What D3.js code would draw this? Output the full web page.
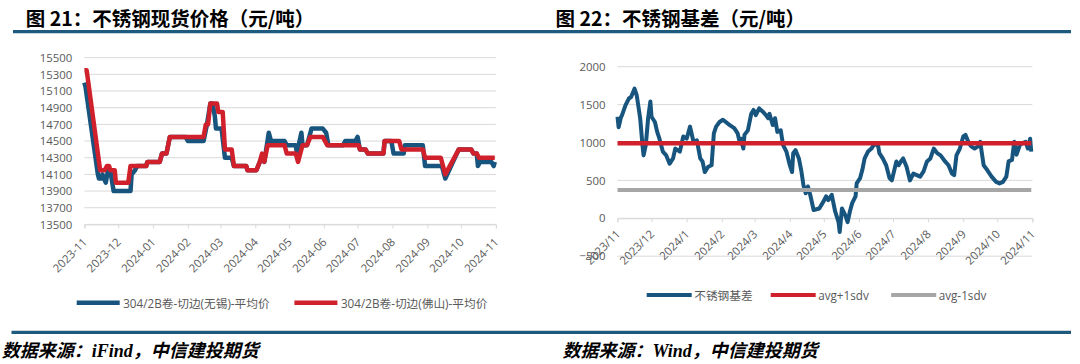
<!DOCTYPE html>
<html>
<head>
<meta charset="utf-8">
<style>
    body { margin: 0; background: #fff; }
    svg { display: block; font-family: "Open Sans", "Noto Sans CJK SC", sans-serif; }
    .title { font-family: "Noto Sans CJK SC", sans-serif; font-weight: 700; font-size: 19.5px; fill: #000; }
    .source { font-family: "Liberation Serif", "Noto Sans CJK SC", serif; font-weight: 700; font-style: italic; font-size: 18px; fill: #000; }
    .tick text { fill: #595959; font-size: 11.4px; font-family: "Open Sans", sans-serif; }
    .legend text { fill: #595959; font-size: 11.7px; }
</style>
</head>
<body>
<svg width="1080" height="364"></svg>

<script src="https://d3js.org/d3.v7.min.js"></script>
<script>
//------------------------ DATA ------------------------//
let monthTicks = ["2023-11-01","2023-12-01","2024-01-01","2024-02-01","2024-03-01","2024-04-01",
                  "2024-05-01","2024-06-01","2024-07-01","2024-08-01","2024-09-01","2024-10-01","2024-11-01"]
let leftTickLabels = ["2023-11","2023-12","2024-01","2024-02","2024-03","2024-04",
                      "2024-05","2024-06","2024-07","2024-08","2024-09","2024-10","2024-11"]
let rightTickLabels = ["2023/11","2023/12","2024/1","2024/2","2024/3","2024/4",
                       "2024/5","2024/6","2024/7","2024/8","2024/9","2024/10","2024/11"]
let leftYTicks = [13500, 13700, 13900, 14100, 14300, 14500, 14700, 14900, 15100, 15300, 15500]
let rightYTicks = [-500, 0, 500, 1000, 1500, 2000]

// 304/2B卷-切边(无锡)-平均价
let wuxiDates = [
    "2023-11-01","2023-11-02","2023-11-13","2023-11-14","2023-11-16","2023-11-17","2023-11-20","2023-11-22","2023-11-24","2023-11-27",
    "2023-12-12","2023-12-13","2023-12-16","2023-12-18","2023-12-26","2023-12-27",
    "2024-01-07","2024-01-09","2024-01-13","2024-01-16","2024-01-30",
    "2024-02-01","2024-02-15","2024-02-18","2024-02-21","2024-02-23","2024-02-25","2024-02-26",
    "2024-03-02","2024-03-05","2024-03-11","2024-03-13","2024-03-24","2024-03-25",
    "2024-04-02","2024-04-05","2024-04-07","2024-04-09","2024-04-13","2024-04-15","2024-04-27","2024-04-29",
    "2024-05-07","2024-05-08","2024-05-12","2024-05-13","2024-05-17","2024-05-21","2024-05-31",
    "2024-06-03","2024-06-05","2024-06-18","2024-06-20","2024-06-29",
    "2024-07-01","2024-07-03","2024-07-08","2024-07-10","2024-07-24","2024-07-25","2024-07-31",
    "2024-08-02","2024-08-11","2024-08-12","2024-08-28","2024-08-30",
    "2024-09-14","2024-09-17","2024-09-29",
    "2024-10-10","2024-10-12","2024-10-15","2024-10-16","2024-10-18","2024-10-28","2024-10-30","2024-10-31"]
let wuxiPrice = [
    15200,15150,14100,14050,14050,14100,14000,14150,14150,13900,
    13900,14100,14150,14200,14200,14250,
    14250,14350,14350,14550,14550,
    14500,14500,14700,14950,14950,14800,14650,
    14650,14300,14300,14200,14200,14150,
    14150,14250,14300,14250,14600,14500,14500,14450,
    14450,14350,14600,14450,14450,14650,14650,
    14600,14450,14450,14500,14500,
    14550,14400,14400,14350,14350,14500,14500,
    14350,14350,14450,14450,14200,
    14200,14050,14400,
    14400,14350,14350,14200,14250,14250,14200,14250]

// 304/2B卷-切边(佛山)-平均价
let foshanDates = [
    "2023-11-01","2023-11-03","2023-11-04","2023-11-15","2023-11-19","2023-11-21","2023-11-23","2023-11-24","2023-11-28","2023-11-29",
    "2023-12-10","2023-12-12","2023-12-26","2023-12-27",
    "2024-01-07","2024-01-09","2024-01-13","2024-01-16",
    "2024-02-15","2024-02-17","2024-02-19","2024-02-21","2024-02-27","2024-02-28",
    "2024-03-03","2024-03-05","2024-03-11","2024-03-13","2024-03-24","2024-03-25",
    "2024-04-02","2024-04-05","2024-04-07","2024-04-09","2024-04-12","2024-04-27","2024-04-29",
    "2024-05-07","2024-05-09","2024-05-13","2024-05-17","2024-05-20","2024-05-31",
    "2024-06-04",
    "2024-07-02","2024-07-03","2024-07-08","2024-07-10","2024-07-24","2024-07-25",
    "2024-08-07","2024-08-09","2024-08-28","2024-08-30",
    "2024-09-13","2024-09-17","2024-09-29",
    "2024-10-10","2024-10-12","2024-10-15","2024-10-17","2024-10-31"]
let foshanPrice = [
    15350,15350,15250,14150,14150,14200,14200,14150,14150,14000,
    14000,14200,14200,14250,
    14250,14350,14350,14550,
    14550,14700,14700,14950,14950,14850,
    14850,14400,14400,14200,14200,14150,
    14150,14250,14350,14250,14450,14450,14350,
    14350,14250,14450,14450,14550,14550,
    14450,
    14450,14400,14400,14350,14350,14500,
    14500,14400,14400,14300,
    14300,14100,14400,
    14400,14350,14350,14300,14300]

// 不锈钢基差
let basisDates = [
    "2023-11-01","2023-11-02","2023-11-04","2023-11-05","2023-11-08","2023-11-11","2023-11-13","2023-11-16","2023-11-18","2023-11-21","2023-11-23","2023-11-24","2023-11-26","2023-11-28","2023-11-30",
    "2023-12-01","2023-12-04","2023-12-06","2023-12-08","2023-12-11","2023-12-14","2023-12-17","2023-12-20","2023-12-22","2023-12-26","2023-12-29",
    "2024-01-01","2024-01-04","2024-01-07","2024-01-10","2024-01-13","2024-01-15","2024-01-17","2024-01-20","2024-01-23","2024-01-25","2024-01-27","2024-01-30",
    "2024-02-02","2024-02-08","2024-02-12","2024-02-15","2024-02-17","2024-02-18","2024-02-20","2024-02-21","2024-02-24","2024-02-27","2024-02-29",
    "2024-03-02","2024-03-05","2024-03-08","2024-03-11","2024-03-13","2024-03-14","2024-03-17","2024-03-19","2024-03-21","2024-03-24","2024-03-26","2024-03-29",
    "2024-04-01","2024-04-03","2024-04-04","2024-04-06","2024-04-09","2024-04-11","2024-04-13","2024-04-15","2024-04-17","2024-04-19","2024-04-22","2024-04-27",
    "2024-05-01","2024-05-03","2024-05-05","2024-05-08","2024-05-11","2024-05-14","2024-05-15","2024-05-17","2024-05-20","2024-05-22","2024-05-24","2024-05-26","2024-05-29","2024-05-30",
    "2024-06-02","2024-06-04","2024-06-06","2024-06-09","2024-06-12","2024-06-15","2024-06-18","2024-06-19","2024-06-22","2024-06-25","2024-06-28","2024-06-30",
    "2024-07-04","2024-07-06","2024-07-08","2024-07-10","2024-07-13","2024-07-16","2024-07-19","2024-07-22","2024-07-25","2024-07-28","2024-07-31",
    "2024-08-03","2024-08-06","2024-08-09","2024-08-12","2024-08-16","2024-08-19","2024-08-22","2024-08-24","2024-08-26","2024-08-29",
    "2024-09-01","2024-09-03","2024-09-06","2024-09-08","2024-09-11","2024-09-14","2024-09-16","2024-09-17","2024-09-19","2024-09-22","2024-09-26","2024-09-30",
    "2024-10-03","2024-10-06","2024-10-09","2024-10-11","2024-10-14","2024-10-16","2024-10-18","2024-10-21","2024-10-23","2024-10-26","2024-10-28","2024-10-30","2024-10-31"]
let basisValues = [
    1340,1200,1330,1360,1490,1580,1600,1710,1620,1320,970,830,970,1320,1540,
    1340,1270,1140,1050,880,830,720,790,920,880,1080,
    1050,1210,1010,1030,790,750,610,680,700,1120,1210,1270,
    1300,1230,1190,1120,990,1050,920,1100,1160,1380,1430,
    1360,1450,1410,1360,1320,1380,1230,1320,1140,1160,970,880,
    700,610,860,900,790,640,440,330,420,310,110,130,
    230,290,240,310,90,-50,-180,130,40,-50,90,200,290,460,
    530,640,790,880,920,990,950,860,790,700,530,500,
    750,700,750,790,680,500,590,570,550,620,750,
    790,920,860,830,750,700,590,570,830,920,
    1080,1100,990,950,920,950,1010,900,700,640,550,480,
    460,480,550,750,770,1010,840,970,990,1010,920,1050,880]

let avgPlus1sdv = 990
let avgMinus1sdv = 373

//------------------------ SETUP ------------------------//
let svg = d3.select("svg")
let parse = d3.timeParse("%Y-%m-%d")
let blue = "#17557f"
let red = "#d0202c"
let grey = "#a6a6a6"
let ruleColor = "#1d5a7e"
let gridColor = "#d9d9d9"

let zip = (dates, values) => dates.map((d, i) => ({date: parse(d), value: values[i]}))
let wuxi = zip(wuxiDates, wuxiPrice)
let foshan = zip(foshanDates, foshanPrice)
let basis = zip(basisDates, basisValues)
let months = monthTicks.map(parse)

//------------------------ FRAME ------------------------//
svg.append("line").attr("x1", 13).attr("x2", 1071).attr("y1", 31.7).attr("y2", 31.7)
    .attr("stroke", ruleColor).attr("stroke-width", 3.2)
svg.append("line").attr("x1", 11.5).attr("x2", 1071).attr("y1", 332.3).attr("y2", 332.3)
    .attr("stroke", ruleColor).attr("stroke-width", 3.2)

svg.append("text").attr("class", "title").attr("x", 25.8).attr("y", 25.5).text("图 21：不锈钢现货价格（元/吨）")
svg.append("text").attr("class", "title").attr("x", 555.5).attr("y", 25.5).text("图 22：不锈钢基差（元/吨）")

svg.append("text").attr("class", "source").attr("x", 1.7).attr("y", 357.3)
    .text("数据来源：iFind，中信建投期货")
svg.append("text").attr("class", "source").attr("x", 562.4).attr("y", 357.3)
    .text("数据来源：Wind，中信建投期货")

//------------------------ AXES HELPER ------------------------//
function drawAxes(x, y, yTicks, labels, baseValue, labelDy) {
    // horizontal grid
    svg.append("g").selectAll("line")
        .data(yTicks)
        .join("line")
        .attr("x1", x.range()[0]).attr("x2", x.range()[1])
        .attr("y1", d => y(d)).attr("y2", d => y(d))
        .attr("stroke", gridColor).attr("stroke-width", 1)

    // y labels
    svg.append("g")
        .attr("transform", `translate(${x.range()[0]},0)`)
        .call(d3.axisLeft(y).tickValues(yTicks).tickSize(0).tickPadding(12).tickFormat(d3.format("d")))
        .call(g => g.select(".domain").remove())

    // x axis on the base line
    svg.append("g")
        .attr("transform", `translate(0,${y(baseValue)})`)
        .call(d3.axisBottom(x).tickValues(months).tickSize(4).tickFormat((d, i) => labels[i]))
        .call(g => g.select(".domain").attr("stroke", gridColor))
        .call(g => g.selectAll(".tick line").attr("stroke", gridColor))
        .call(g => g.selectAll(".tick text")
            .attr("x", 0).attr("y", 0).attr("dy", 0)
            .attr("text-anchor", "end")
            .attr("transform", `translate(3,${labelDy}) rotate(-45)`))
}

let line = (x, y) => d3.line().x(d => x(d.date)).y(d => y(d.value))

//------------------------ LEFT CHART ------------------------//
let xL = d3.scaleTime().domain([months[0], months[12]]).range([84.4, 495.9])
let yL = d3.scaleLinear().domain([13500, 15500]).range([224.4, 57.7])
drawAxes(xL, yL, leftYTicks, leftTickLabels, 13500, 18.5)

svg.append("path").datum(wuxi).attr("d", line(xL, yL))
    .attr("fill", "none").attr("stroke", blue).attr("stroke-width", 4.5).attr("stroke-linejoin", "round")
svg.append("path").datum(foshan).attr("d", line(xL, yL))
    .attr("fill", "none").attr("stroke", red).attr("stroke-width", 4.5).attr("stroke-linejoin", "round")

let legL = svg.append("g").attr("class", "legend")
let legLItems = [
    {name: "304/2B卷-切边(无锡)-平均价", color: blue, x: 76.7},
    {name: "304/2B卷-切边(佛山)-平均价", color: red, x: 294.4}]
legLItems.forEach(function(d) {
    legL.append("line").attr("x1", d.x).attr("x2", d.x + 43).attr("y1", 302.7).attr("y2", 302.7)
        .attr("stroke", d.color).attr("stroke-width", 4.5)
    legL.append("text").attr("x", d.x + 46.5).attr("y", 302.7).attr("dominant-baseline", "central").text(d.name)
})

//------------------------ RIGHT CHART ------------------------//
let xR = d3.scaleTime().domain([months[0], months[12]]).range([617.5, 1032.4])
let yR = d3.scaleLinear().domain([-500, 2000]).range([256.2, 66.7])
drawAxes(xR, yR, rightYTicks, rightTickLabels, 0, 16.5)

let first = basis[0].date, last = basis[basis.length - 1].date
svg.append("path").datum(basis).attr("d", line(xR, yR))
    .attr("fill", "none").attr("stroke", blue).attr("stroke-width", 4).attr("stroke-linejoin", "round")
svg.append("path").datum([{date: first, value: avgPlus1sdv}, {date: last, value: avgPlus1sdv}])
    .attr("d", line(xR, yR)).attr("fill", "none").attr("stroke", red).attr("stroke-width", 4.5)
svg.append("path").datum([{date: first, value: avgMinus1sdv}, {date: last, value: avgMinus1sdv}])
    .attr("d", line(xR, yR)).attr("fill", "none").attr("stroke", grey).attr("stroke-width", 4)

let legR = svg.append("g").attr("class", "legend")
let legRItems = [
    {name: "不锈钢基差", color: blue, x: 646.7},
    {name: "avg+1sdv", color: red, x: 770.7},
    {name: "avg-1sdv", color: grey, x: 891.2}]
legRItems.forEach(function(d) {
    legR.append("line").attr("x1", d.x).attr("x2", d.x + 45).attr("y1", 295).attr("y2", 295)
        .attr("stroke", d.color).attr("stroke-width", 4)
    legR.append("text").attr("x", d.x + 47.5).attr("y", 295).attr("dominant-baseline", "central").text(d.name)
})
</script>
</body>
</html>
